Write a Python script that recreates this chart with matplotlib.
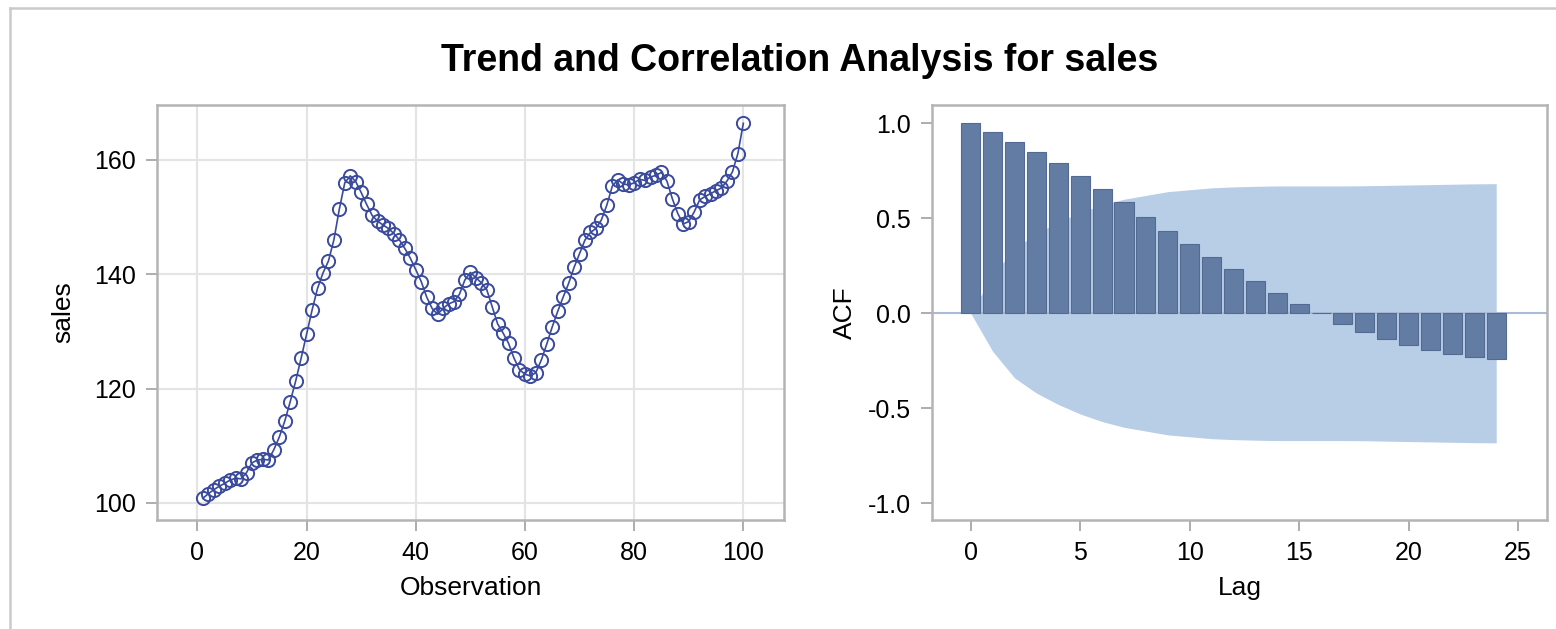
import matplotlib
matplotlib.use("Agg")
import matplotlib.pyplot as plt
from matplotlib.lines import Line2D

plt.rcParams['font.family'] = ['Liberation Sans', 'DejaVu Sans']
plt.rcParams['axes.unicode_minus'] = False

obs = list(range(1, 101))
sales = [100.8, 101.6, 102.3, 102.9, 103.4, 104.0, 104.3, 104.2, 105.3, 107.0,
         107.5, 107.6, 107.5, 109.3, 111.5, 114.3, 117.7, 121.3, 125.3, 129.5,
         133.7, 137.5, 140.2, 142.3, 146.0, 151.4, 156.0, 157.2, 156.2, 154.3,
         152.2, 150.3, 149.3, 148.6, 148.0, 147.1, 146.0, 144.5, 142.8, 140.8,
         138.7, 136.0, 134.0, 133.0, 134.0, 134.8, 135.2, 136.5, 139.0, 140.3,
         139.4, 138.5, 137.3, 134.3, 131.3, 129.7, 127.9, 125.3, 123.3, 122.5,
         122.2, 122.8, 125.0, 127.8, 130.8, 133.5, 136.0, 138.4, 141.2, 143.6,
         146.0, 147.3, 148.0, 149.5, 152.1, 155.4, 156.5, 155.8, 155.6, 156.0,
         156.6, 156.4, 157.0, 157.3, 157.8, 156.3, 153.2, 150.6, 148.8, 149.2,
         150.9, 153.0, 153.6, 154.1, 154.6, 155.1, 156.3, 157.9, 161.1, 166.4]

# autocorrelations, lags 0..24
lags = list(range(0, 25))
acf = [1.0, 0.953, 0.9, 0.847, 0.789, 0.723, 0.654, 0.588, 0.509, 0.433,
       0.365, 0.298, 0.232, 0.17, 0.109, 0.047, 0.0, -0.056, -0.097, -0.137,
       -0.167, -0.193, -0.216, -0.228, -0.24]
# two standard error band
band = [0.0, 0.20, 0.34, 0.42, 0.48, 0.53, 0.57, 0.60, 0.62, 0.64,
        0.65, 0.66, 0.665, 0.668, 0.67, 0.67, 0.67, 0.67, 0.671, 0.673,
        0.675, 0.677, 0.679, 0.681, 0.682]

line_col = '#3a4a9c'
bar_col = '#637ca3'
band_col = '#b8cde6'
frame_col = '#b4b4b4'

fig = plt.figure(figsize=(15.56, 6.29), dpi=100)

# outer frame (left and top edges)
fig.add_artist(Line2D([10 / 1556, 10 / 1556], [0, 1 - 8 / 629], transform=fig.transFigure,
                      color='#cacaca', lw=1.8))
fig.add_artist(Line2D([10 / 1556, 1], [1 - 8 / 629, 1 - 8 / 629], transform=fig.transFigure,
                      color='#cacaca', lw=1.8))

fig.text(0.514, 1 - 61 / 629, 'Trend and Correlation Analysis for sales',
         ha='center', va='center', fontsize=27, fontweight='bold')

ax1 = fig.add_axes([157 / 1556, 1 - 520 / 629, 627 / 1556, 415 / 629])
ax2 = fig.add_axes([932 / 1556, 1 - 520 / 629, 615 / 1556, 415 / 629])

# trend plot
ax1.plot(obs, sales, color=line_col, lw=1.2, marker='o', markersize=9.5,
         markerfacecolor='none', markeredgecolor=line_col, markeredgewidth=1.4, zorder=3)
ax1.set_xlim(-7.4, 107.45)
ax1.set_ylim(97.0, 169.6)
ax1.set_xticks([0, 20, 40, 60, 80, 100])
ax1.set_yticks([100, 120, 140, 160])
ax1.grid(True, color='#e4e4e4', lw=1.5)
ax1.set_axisbelow(True)
ax1.set_xlabel('Observation', fontsize=19, labelpad=8)
ax1.set_ylabel('sales', fontsize=19, labelpad=14)

# ACF plot
ax2.fill_between(lags, [-b for b in band], band, color=band_col, lw=0, zorder=1)
ax2.axhline(0, color='#a8bcd6', lw=1.5, zorder=2)
ax2.bar(lags, acf, width=0.87, color=bar_col, edgecolor='#536b93', lw=0.8, zorder=3)
ax2.set_xlim(-1.77, 26.32)
ax2.set_ylim(-1.088, 1.096)
ax2.set_xticks([0, 5, 10, 15, 20, 25])
ax2.set_yticks([-1.0, -0.5, 0.0, 0.5, 1.0])
ax2.set_yticklabels(['-1.0', '-0.5', '0.0', '0.5', '1.0'])
ax2.set_xlabel('Lag', fontsize=19, labelpad=8)
ax2.set_ylabel('ACF', fontsize=19, labelpad=8)

for ax in (ax1, ax2):
    for s in ax.spines.values():
        s.set_color(frame_col)
        s.set_linewidth(1.8)
    ax.tick_params(labelsize=18, length=8, width=1.2, color='#a0a0a0', pad=7)

fig.savefig('out.png', dpi=100)
